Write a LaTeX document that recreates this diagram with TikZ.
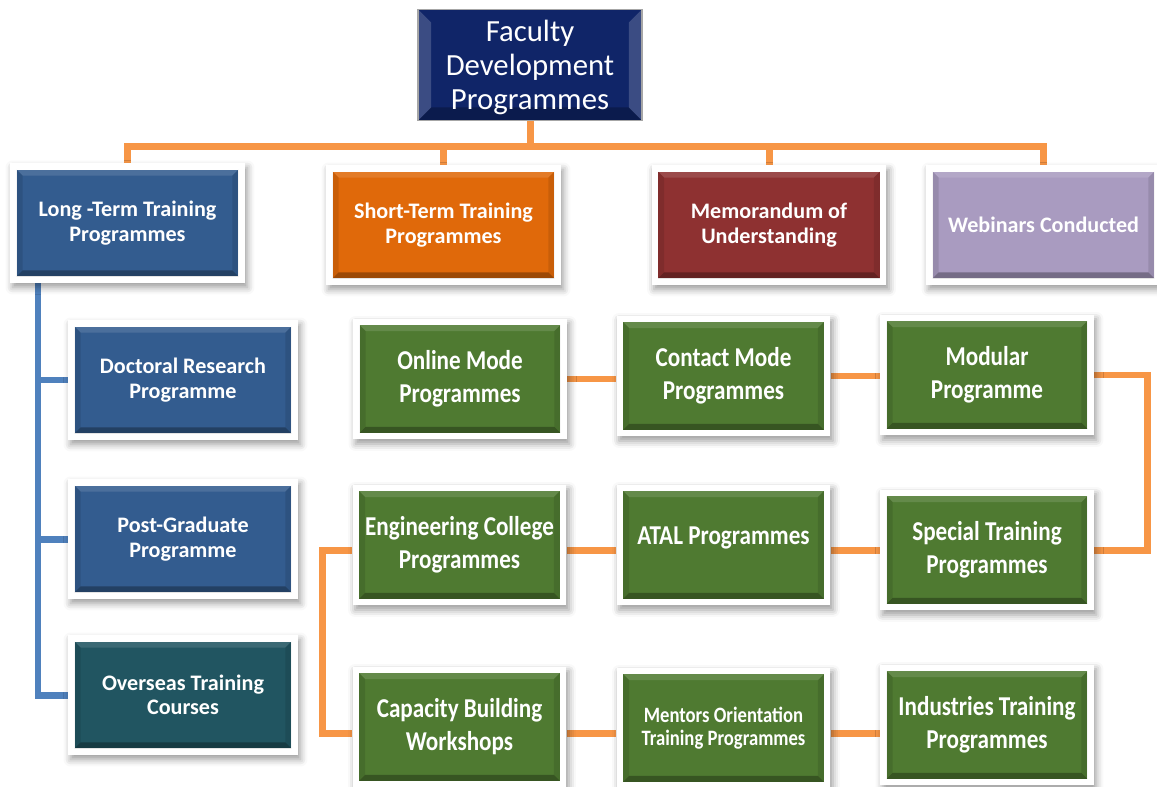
\documentclass[tikz,border=0pt]{standalone}
\usepackage{fontspec}
\setmainfont{Carlito}
\newfontfamily\narrowfont[FakeStretch=0.85]{Carlito}
\usetikzlibrary{positioning,shadows.blur,backgrounds}
\definecolor{fdpnavy}{RGB}{16,37,104}
\definecolor{ltblue}{RGB}{51,92,143}
\definecolor{storange}{RGB}{224,105,10}
\definecolor{moured}{RGB}{142,49,49}
\definecolor{weblilac}{RGB}{169,155,192}
\definecolor{osteal}{RGB}{33,85,97}
\definecolor{prggreen}{RGB}{79,122,49}
\definecolor{linkorange}{RGB}{247,150,70}
\definecolor{trunkblue}{RGB}{79,129,189}

\begin{document}
\begin{tikzpicture}[x=0.02cm,y=-0.02cm,
  tile/.style={path picture={
    \coordinate (a) at ([shift={(1.3mm,1.3mm)}]path picture bounding box.south west);
    \coordinate (b) at ([shift={(-1.3mm,-1.3mm)}]path picture bounding box.north east);
    \coordinate (tl) at (a |- b);
    \coordinate (br) at (a -| b);
    \fill[#1] (a) rectangle (b);
    \fill[black, opacity=0.3] (a) -- (br) -- ([shift={(-1.2mm,1.2mm)}]br) -- ([shift={(1.2mm,1.2mm)}]a) -- cycle;
    \fill[white, opacity=0.12] (tl) -- (b) -- ([shift={(-1.2mm,-1.2mm)}]b) -- ([shift={(1.2mm,-1.2mm)}]tl) -- cycle;
    \fill[black, opacity=0.1] (a) -- (tl) -- ([shift={(1.2mm,-1.2mm)}]tl) -- ([shift={(1.2mm,1.2mm)}]a) -- cycle;
    \fill[black, opacity=0.1] (br) -- (b) -- ([shift={(-1.2mm,-1.2mm)}]b) -- ([shift={(-1.2mm,1.2mm)}]br) -- cycle;
  }}]
\tikzstyle{box}=[rectangle, fill=white, text=white, align=center, font=\bfseries\fontsize{12.6}{14}\selectfont, blur shadow={shadow xshift=0.5mm, shadow yshift=-0.9mm, shadow blur radius=1.4mm, shadow opacity=40}]
\tikzstyle{head}=[box, minimum width=4.7cm, minimum height=2.4cm]
\tikzstyle{sub}=[box, minimum width=4.6cm, minimum height=2.4cm]
\tikzstyle{prog}=[box, tile=prggreen, minimum width=4.28cm, minimum height=2.42cm, font=\narrowfont\bfseries\fontsize{15.5}{18.7}\selectfont]
\tikzstyle{link}=[line width=1.4mm, draw=linkorange]
\tikzstyle{trunk}=[line width=1.4mm, draw=trunkblue]
  \useasboundingbox (0,0) rectangle (1157,787);
  \node[rectangle, fill=fdpnavy, draw=gray!70, line width=0.6pt, minimum width=4.48cm, minimum height=2.22cm, text=white, align=center, font=\fontsize{17.5}{19.5}\selectfont, text depth=-2pt,
    path picture={
      \fill[white, opacity=0.18] (path picture bounding box.north west) -- ([shift={(2.6mm,-2.6mm)}]path picture bounding box.north west) -- ([shift={(2.6mm,2.6mm)}]path picture bounding box.south west) -- (path picture bounding box.south west) -- cycle;
      \fill[white, opacity=0.18] (path picture bounding box.north east) -- ([shift={(-2.6mm,-2.6mm)}]path picture bounding box.north east) -- ([shift={(-2.6mm,2.6mm)}]path picture bounding box.south east) -- (path picture bounding box.south east) -- cycle;
      \fill[black, opacity=0.25] (path picture bounding box.south west) -- ([shift={(2.6mm,2.6mm)}]path picture bounding box.south west) -- ([shift={(-2.6mm,2.6mm)}]path picture bounding box.south east) -- (path picture bounding box.south east) -- cycle;
    }] (fdp) at (530,65) {Faculty\\Development\\Programmes};
  % first level
  \node[head, tile=ltblue] (ltp) at (127.5,223) {Long -Term Training\\Programmes};
  \node[head, tile=storange] (stp) at (443.5,225) {Short-Term Training\\Programmes};
  \node[head, tile=moured] (mou) at (769,225) {Memorandum of\\Understanding};
  \node[head, tile=weblilac] (web) at (1043.5,225) {Webinars Conducted};
  % long term column
  \node[sub, tile=ltblue] (drp) at (183,380) {Doctoral Research\\Programme};
  \node[sub, tile=ltblue] (pgp) at (183,539) {Post-Graduate\\Programme};
  \node[sub, tile=osteal] (otc) at (183,695) {Overseas Training\\Courses};
  % short term programmes
  \node[prog] (omp) at (460,379) {Online Mode\\Programmes};
  \node[prog] (cmp) at (723.5,376) {Contact Mode\\Programmes};
  \node[prog] (mdp) at (987,375) {Modular\\Programme};
  \node[prog] (ecp) at (459.5,545) {Engineering College\\Programmes};
  \node[prog, text depth=11pt] (atal) at (723.5,545) {ATAL Programmes};
  \node[prog] (spt) at (987,550) {Special Training\\Programmes};
  \node[prog] (cbw) at (459.5,727) {Capacity Building\\Workshops};
  \node[prog, font=\narrowfont\bfseries\fontsize{12.5}{13.5}\selectfont] (mot) at (723.5,728) {Mentors Orientation\\Training Programmes};
  \node[prog] (itp) at (987,725) {Industries Training\\Programmes};
  \begin{scope}[on background layer]
    \coordinate (bus) at (530,147);
    \coordinate (spine) at (38,0);
    \draw[link] (fdp.south) -- (bus);
    \draw[link] (ltp.north) |- (bus) -| (web.north);
    \draw[link] (stp.north) -- (stp.north |- bus);
    \draw[link] (mou.north) -- (mou.north |- bus);
    \draw[trunk] (ltp.south -| spine) |- (drp.west);
    \draw[trunk] (ltp.south -| spine) |- (pgp.west);
    \draw[trunk] (ltp.south -| spine) |- (otc.west);
    \draw[link] (omp.east) -- (cmp.west |- omp.east);
    \draw[link] (cmp.east) -- (mdp.west |- cmp.east);
    \draw[link] (mdp.east) -- ++(53,0) |- (spt.east);
    \draw[link] (spt.west) -- (atal.east |- spt.west);
    \draw[link] (atal.west |- spt.west) -- (ecp.east |- spt.west);
    \draw[link] (ecp.west |- spt.west) -- ++(-30,0) |- (cbw.west |- 0,733);
    \draw[link] (cbw.east |- 0,733) -- (mot.west |- 0,733);
    \draw[link] (mot.east |- 0,733) -- (itp.west |- 0,733);
  \end{scope}
\end{tikzpicture}
\end{document}
